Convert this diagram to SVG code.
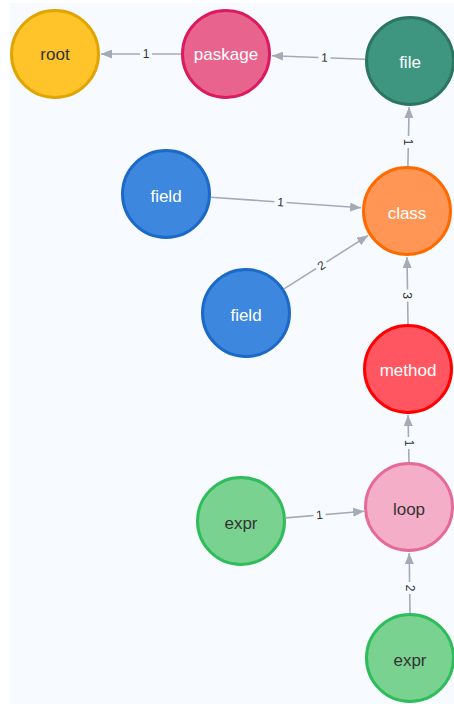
<svg xmlns="http://www.w3.org/2000/svg" width="454" height="704" viewBox="0 0 454 704">
<defs>
<marker id="arr" viewBox="0 0 11 9" refX="11" refY="4.5" markerWidth="11" markerHeight="9" markerUnits="userSpaceOnUse" orient="auto">
<path d="M0,0 L11,4.5 L0,9 Z" fill="#a5abb6"/>
</marker>
<style>
.node circle{stroke-width:3}
.node text{font-family:"Helvetica Neue","Liberation Sans",Arial,sans-serif;font-size:17px;text-anchor:middle;dominant-baseline:central}
.light{fill:#ffffff}
.dark{fill:#333333}
.edge line{stroke:#a5abb6;stroke-width:1.6;marker-end:url(#arr)}
.edge text{font-family:"Helvetica Neue","Liberation Sans",Arial,sans-serif;font-size:12px;fill:#333333;text-anchor:middle;dominant-baseline:central}
.edge rect{fill:#f7fbff}
</style>
</defs>
<rect x="0" y="0" width="454" height="704" fill="#ffffff"/>
<rect x="10" y="3" width="444" height="701" fill="#f7fbff"/>
<g id="connectors">
<g class="edge" id="e-paskage-root"><line x1="181" y1="54" x2="101" y2="54"/><rect x="140" y="47" width="12" height="14"/><text x="146" y="53.5">1</text></g>
<g class="edge" id="e-file-paskage"><line x1="365" y1="59.3" x2="272" y2="55.7"/><rect x="318.5" y="50.6" width="12" height="14" transform="rotate(2.2 324.5 57.6)"/><text x="324.5" y="57.6" transform="rotate(2.2 324.5 57.6)">1</text></g>
<g class="edge" id="e-class-file"><line x1="407.9" y1="166" x2="409.1" y2="107"/><rect x="402" y="135.5" width="12" height="13" transform="rotate(90 408 142)"/><text x="408" y="142" transform="rotate(90 408 142)">1</text></g>
<g class="edge" id="e-field1-class"><line x1="210.9" y1="197.2" x2="361.1" y2="207.8"/><rect x="274.5" y="195" width="12" height="14" transform="rotate(4 280.5 202.2)"/><text x="280.5" y="202.2" transform="rotate(4 280.5 202.2)">1</text></g>
<g class="edge" id="e-field2-class"><line x1="284" y1="288.9" x2="368.1" y2="235.6"/><rect x="315.5" y="258.5" width="12" height="14" transform="rotate(-32.4 321.5 265.5)"/><text x="321.5" y="265.5" transform="rotate(-32.4 321.5 265.5)">2</text></g>
<g class="edge" id="e-method-class"><line x1="408" y1="324" x2="407" y2="257"/><rect x="401" y="289" width="12" height="13" transform="rotate(90 407 295.5)"/><text x="407" y="295.5" transform="rotate(90 407 295.5)">3</text></g>
<g class="edge" id="e-loop-method"><line x1="409" y1="462" x2="408" y2="415"/><rect x="402.5" y="436.5" width="12" height="13" transform="rotate(90 408.5 443)"/><text x="408.5" y="443" transform="rotate(90 408.5 443)">1</text></g>
<g class="edge" id="e-expr1-loop"><line x1="285.8" y1="517.9" x2="364.2" y2="511.3"/><rect x="313.5" y="508" width="12" height="14" transform="rotate(-4.8 319.5 515)"/><text x="319.5" y="515" transform="rotate(-4.8 319.5 515)">1</text></g>
<g class="edge" id="e-expr2-loop"><line x1="410" y1="613" x2="409.2" y2="553"/><rect x="403.5" y="581.5" width="12" height="13" transform="rotate(90 409.5 588)"/><text x="409.5" y="588" transform="rotate(90 409.5 588)">2</text></g>
</g>
<g class="node" id="n-root"><circle cx="55" cy="54" r="43.5" fill="#ffc42a" stroke="#e0a500"/><text class="dark" x="55" y="54">root</text></g>
<g class="node" id="n-paskage"><circle cx="226" cy="54" r="43.5" fill="#e8648f" stroke="#dc1a5e"/><text class="light" x="226" y="54">paskage</text></g>
<g class="node" id="n-file"><circle cx="410" cy="61" r="43.5" fill="#3e9680" stroke="#2c7561"/><text class="light" x="410" y="62">file</text></g>
<g class="node" id="n-field1"><circle cx="166" cy="194" r="43.5" fill="#3d87de" stroke="#1c69c8"/><text class="light" x="166" y="196">field</text></g>
<g class="node" id="n-class"><circle cx="407" cy="211" r="43.5" fill="#ff9656" stroke="#ff6a00"/><text class="light" x="407" y="213">class</text></g>
<g class="node" id="n-field2"><circle cx="246" cy="313" r="43.5" fill="#3d87de" stroke="#1c69c8"/><text class="light" x="246" y="315">field</text></g>
<g class="node" id="n-method"><circle cx="408" cy="369" r="43.5" fill="#ff5662" stroke="#ff0000"/><text class="light" x="408" y="370">method</text></g>
<g class="node" id="n-loop"><circle cx="409" cy="507" r="43.5" fill="#f5aec8" stroke="#e66a98"/><text class="dark" x="409" y="509">loop</text></g>
<g class="node" id="n-expr1"><circle cx="241" cy="521" r="43.5" fill="#7ad290" stroke="#2fbd5b"/><text class="dark" x="241" y="523">expr</text></g>
<g class="node" id="n-expr2"><circle cx="410" cy="658" r="43.5" fill="#7ad290" stroke="#2fbd5b"/><text class="dark" x="410" y="660">expr</text></g>
</svg>
